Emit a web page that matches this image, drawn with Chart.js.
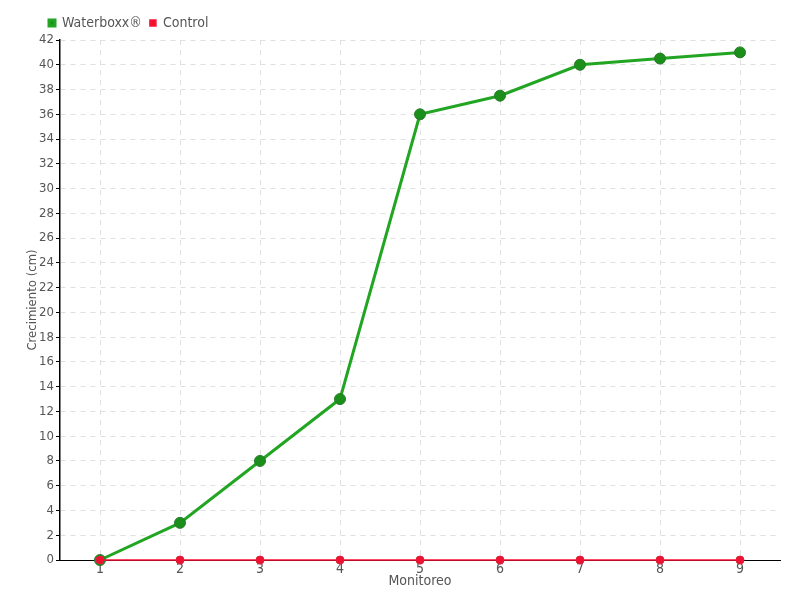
<!DOCTYPE html>
<html>
<head>
<meta charset="utf-8">
<script src="https://cdn.jsdelivr.net/npm/chart.js@4"></script>
<style>
  html, body { margin: 0; padding: 0; background: #fff; }
  #wrap { width: 800px; height: 600px; }
</style>
</head>
<body>
<div id="wrap"><canvas id="Chart"></canvas></div>
<script>
// monitoreo 1..9
let monitoreo = ['1', '2', '3', '4', '5', '6', '7', '8', '9'];
let waterboxx = [0, 3, 8, 13, 36, 37.5, 40, 40.5, 41];
let control = [0, 0, 0, 0, 0, 0, 0, 0, 0];

// condensed face keeps the labels narrow like the original
Chart.defaults.font.family = "'DejaVu Sans Condensed', 'DejaVu Sans', sans-serif";
Chart.defaults.color = '#555';

var ctx = document.getElementById("Chart").getContext("2d");

var myChart = new Chart(ctx, {
  type: 'line',
  data: {
    labels: monitoreo,
    datasets: [{
      label: 'Waterboxx\u00ae',
      data: waterboxx,
      order: 1,
      borderColor: '#22a522',
      backgroundColor: '#1a8f1a',
      pointBackgroundColor: '#1a8f1a',
      pointBorderColor: '#2b7a2b',
      borderWidth: 3,
      pointRadius: 5.5,
      pointBorderWidth: 1,
      clip: false,
      tension: 0
    }, {
      label: 'Control',
      data: control,
      order: 0,
      borderColor: '#ff1133',
      backgroundColor: '#ee1133',
      pointBackgroundColor: '#ee1133',
      pointBorderColor: '#dd2233',
      borderWidth: 1.5,
      pointRadius: 4,
      pointBorderWidth: 1,
      clip: false,
      tension: 0
    }]
  },
  options: {
    responsive: true,
    maintainAspectRatio: false,
    animation: false,
    layout: {
      padding: { left: 25, right: 20, top: 8, bottom: 10 }
    },
    scales: {
      x: {
        offset: true,
        border: { color: '#000', width: 1, dash: [5, 5] },
        grid: {
          color: '#e0e0e0',
          drawTicks: false,
          offset: false
        },
        ticks: { padding: 1, font: { size: 14 } },
        title: {
          display: true,
          text: 'Monitoreo',
          padding: { top: 0, bottom: 0 },
          font: { size: 14 }
        },
        afterFit: function(scale) { scale.height = 30; }
      },
      y: {
        min: 0,
        max: 42,
        border: { color: '#000', width: 1.5, dash: [5, 5] },
        grid: {
          color: '#e0e0e0',
          tickColor: '#000',
          tickLength: 4,
          drawTicks: true
        },
        ticks: { stepSize: 2, padding: 2, font: { size: 13 } },
        title: {
          display: true,
          text: 'Crecimiento (cm)',
          padding: { top: 0, bottom: 0 },
          font: { size: 13 }
        },
        afterFit: function(scale) { scale.width = 35; }
      }
    },
    plugins: {
      legend: {
        position: 'top',
        align: 'start',
        labels: {
          boxWidth: 6,
          boxHeight: 6,
          padding: 8,
          font: { size: 14 },
          color: '#555',
          sort: (a, b) => a.datasetIndex - b.datasetIndex
        }
      },
      tooltip: { enabled: false }
    }
  },
  plugins: [{
    id: 'shiftLegend',
    afterLayout(chart) {
      chart.legend.left = 41;
    }
  }]
});
</script>
</body>
</html>
